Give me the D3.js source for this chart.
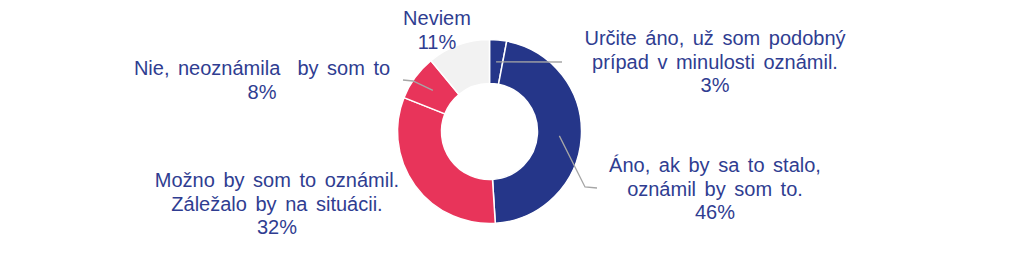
<!DOCTYPE html>
<html>
<head>
<meta charset="utf-8">
<script src="https://cdn.jsdelivr.net/npm/d3@7"></script>
<style>
  html, body { margin: 0; padding: 0; background: #fff; }
  svg { display: block; font-family: "Liberation Sans", Arial, sans-serif; }
</style>
</head>
<body>
<div id="chart"></div>
<script>
// answers, clockwise from 12 o'clock
const categories = [
  ['Určite áno, už som podobný', 'prípad v minulosti oznámil.'],
  ['Áno, ak by sa to stalo,', 'oznámil by som to.'],
  ['Možno by som to oznámil.', 'Záležalo by na situácii.'],
  ['Nie, neoznámila  by som to'],
  ['Neviem']
];
const values = [3, 46, 32, 8, 11];
const colors = ['#253689', '#253689', '#e8345a', '#e8345a', '#f2f2f2'];

// label anchors (center x, first baseline) and leader line bends
const labelAt = [[715, 45], [715, 172], [277, 187], [262, 75], [437, 25]];
const leaders = [
  [[562, 62]],
  [[585, 187], [597, 188]],
  null,
  [[413, 81], [403, 80]],
  null
];

const width = 1024, height = 258;
const cx = 489.5, cy = 131.5;
const outerR = 92, innerR = 48;

const svg = d3.select('#chart')
  .append('svg')
  .attr('width', width)
  .attr('height', height);

const pie = d3.pie().sort(null).value(d => d);
const arcs = pie(values);
const arc = d3.arc().innerRadius(innerR).outerRadius(outerR);
const mid = d3.arc().innerRadius(70).outerRadius(70);

const g = svg.append('g').attr('transform', `translate(${cx},${cy})`);

g.selectAll('path.slice')
  .data(arcs)
  .enter()
  .append('path')
  .attr('class', 'slice')
  .attr('d', arc)
  .attr('fill', (d, i) => colors[i])
  .attr('stroke', '#fff')
  .attr('stroke-width', 1.5);

// leader lines
const line = d3.line();
arcs.forEach((d, i) => {
  if (!leaders[i]) return;
  const [x0, y0] = mid.centroid(d);
  const pts = [[cx + x0, cy + y0]].concat(leaders[i]);
  svg.append('path')
    .attr('d', line(pts))
    .attr('fill', 'none')
    .attr('stroke', '#a6a6a6')
    .attr('stroke-width', 1.3);
});

// labels
const labels = svg.selectAll('text.lbl')
  .data(arcs)
  .enter()
  .append('text')
  .attr('class', 'lbl')
  .attr('text-anchor', 'middle')
  .attr('fill', '#2f3d91')
  .style('font-size', '20px')
  .style('word-spacing', '3px');

labels.each(function(d, i) {
  const t = d3.select(this);
  const lines = categories[i].concat([`${values[i]}%`]);
  lines.forEach((s, j) => {
    t.append('tspan')
      .attr('x', labelAt[i][0])
      .attr('y', labelAt[i][1] + j * 23.5)
      .style('white-space', 'pre')
      .text(s);
  });
});
</script>
</body>
</html>
